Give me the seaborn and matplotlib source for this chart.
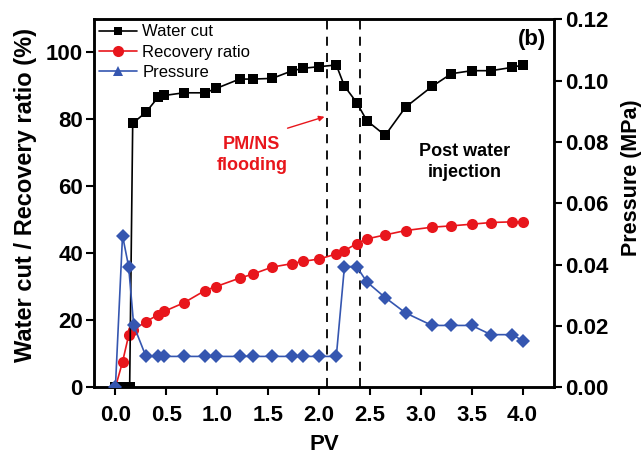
import matplotlib
matplotlib.use("Agg")
import pandas as pd
import seaborn as sns
import matplotlib.pyplot as plt
from matplotlib.lines import Line2D

# values
wc_pv = [0.0, 0.07, 0.14, 0.17, 0.30, 0.42, 0.48, 0.67, 0.88, 0.99, 1.22, 1.35, 1.54, 1.73,
         1.84, 2.00, 2.17, 2.25, 2.37, 2.47, 2.65, 2.85, 3.11, 3.30, 3.50, 3.69, 3.90, 4.00]
water_cut = [0, 0, 0, 78.8, 82.1, 86.6, 87.1, 87.9, 87.9, 89.2, 92.0, 92.0, 92.2, 94.4,
             95.2, 95.7, 96.2, 89.9, 85.0, 79.6, 75.2, 83.6, 89.8, 93.6, 94.5, 94.5, 95.5, 96.2]

rr_pv = [0.0, 0.07, 0.13, 0.17, 0.30, 0.42, 0.48, 0.67, 0.88, 0.99, 1.22, 1.35, 1.54, 1.73,
         1.84, 2.00, 2.17, 2.25, 2.37, 2.47, 2.65, 2.85, 3.11, 3.30, 3.50, 3.69, 3.90, 4.00]
recovery = [0, 7.6, 15.5, 17.0, 19.6, 21.7, 22.7, 25.2, 28.9, 30.1, 32.6, 33.8, 35.9, 36.9,
            37.6, 38.3, 39.8, 40.8, 42.9, 44.3, 45.5, 46.8, 47.8, 48.2, 48.7, 49.2, 49.4, 49.4]

p_pv = [0.0, 0.07, 0.13, 0.18, 0.30, 0.42, 0.48, 0.67, 0.88, 0.99, 1.22, 1.35, 1.54, 1.73,
        1.84, 2.00, 2.17, 2.25, 2.37, 2.47, 2.65, 2.85, 3.11, 3.30, 3.50, 3.69, 3.90, 4.00]
pressure = [0.0, 0.0495, 0.0394, 0.0202, 0.0101, 0.0101, 0.0101, 0.0101, 0.0101, 0.0101,
            0.0101, 0.0101, 0.0101, 0.0101, 0.0101, 0.0101, 0.0101, 0.0394, 0.0394, 0.0344,
            0.0293, 0.0243, 0.0202, 0.0202, 0.0202, 0.0172, 0.0172, 0.0152]

stage_lines = [2.08, 2.40]
x_ticks = [0.0, 0.5, 1.0, 1.5, 2.0, 2.5, 3.0, 3.5, 4.0]

sns.set_theme(style="ticks")
plt.rcParams["font.family"] = ["Liberation Sans", "DejaVu Sans"]
plt.rcParams["font.weight"] = "bold"
for key in ("text.color", "axes.labelcolor", "xtick.color", "ytick.color"):
    plt.rcParams[key] = "black"

RED = "#e8161c"
BLUE = "#3556b0"

df_wc = pd.DataFrame({"PV": wc_pv, "v": water_cut})
df_rr = pd.DataFrame({"PV": rr_pv, "v": recovery})
df_p = pd.DataFrame({"PV": p_pv, "v": pressure})

fig = plt.figure(figsize=(6.44, 4.59), dpi=100)
ax = fig.add_axes([0.146, 0.156, 0.714, 0.8017])
ax2 = ax.twinx()

sns.lineplot(data=df_wc, x="PV", y="v", ax=ax, color="black", marker="s", markersize=7,
             markeredgewidth=0, linewidth=1.2, zorder=4)
sns.lineplot(data=df_rr, x="PV", y="v", ax=ax, color=RED, marker="o", markersize=8,
             markeredgewidth=0, linewidth=1.2, zorder=3)
sns.lineplot(data=df_p, x="PV", y="v", ax=ax2, color=BLUE, marker="D", markersize=7,
             markeredgewidth=0, linewidth=1.2, zorder=3)

for xv in stage_lines:
    ax.axvline(xv, color="black", linestyle=(0, (5, 4)), linewidth=1.3, zorder=1)

ax.set_xlim(-0.21, 4.307)
ax.set_ylim(0, 109.8)
ax2.set_ylim(0, 0.12)
ax.set_xticks(x_ticks)
ax.set_yticks([0, 20, 40, 60, 80, 100])
ax2.set_yticks([0.0, 0.02, 0.04, 0.06, 0.08, 0.10, 0.12])
ax.set_xticklabels([f"{t:.1f}" for t in x_ticks])
ax2.set_yticklabels([f"{t:.2f}" for t in ax2.get_yticks()])

ax.set_xlabel("PV", fontsize=16, fontweight="bold", labelpad=6)
ax.set_ylabel("Water cut / Recovery ratio (%)", fontsize=17, fontweight="bold")
ax2.set_ylabel("Pressure (MPa)", fontsize=15.5, fontweight="bold")
ax.yaxis.set_label_coords(-0.124, 0.523)
ax2.yaxis.set_label_coords(1.146, 0.57)

for a in (ax, ax2):
    a.tick_params(labelsize=16, width=1.5, length=5.5, direction="out", pad=2.5)
    for s in a.spines.values():
        s.set_linewidth(1.8)
        s.set_color("black")
    for lab in a.get_xticklabels() + a.get_yticklabels():
        lab.set_fontweight("bold")
ax.tick_params(axis="x", pad=7)

ax.annotate("", xy=(2.08, 81.0), xytext=(1.665, 77.1),
            arrowprops=dict(arrowstyle="-|>", color=RED, lw=1.0, mutation_scale=8))
ax.text(1.34, 69.4, "PM/NS\nflooding", color=RED, fontsize=13, fontweight="bold",
        ha="center", va="center", linespacing=1.3)
ax.text(3.43, 67.3, "Post water\ninjection", color="black", fontsize=13, fontweight="bold",
        ha="center", va="center", linespacing=1.3)
ax.text(4.09, 103.7, "(b)", color="black", fontsize=16, fontweight="bold",
        ha="center", va="center")

handles = [
    Line2D([], [], color="black", marker="s", markersize=6, markeredgewidth=0, lw=1.2),
    Line2D([], [], color=RED, marker="o", markersize=8, markeredgewidth=0, lw=1.2),
    Line2D([], [], color=BLUE, marker="^", markersize=7, markeredgewidth=0, lw=1.2),
]
ax.legend(handles, ["Water cut", "Recovery ratio", "Pressure"], loc="upper left",
          frameon=False, handlelength=2.3, handletextpad=0.3,
          labelspacing=0.32, borderaxespad=0.1, borderpad=0.2,
          prop={"weight": "normal", "size": 12})

fig.savefig("out.png", dpi=100)
